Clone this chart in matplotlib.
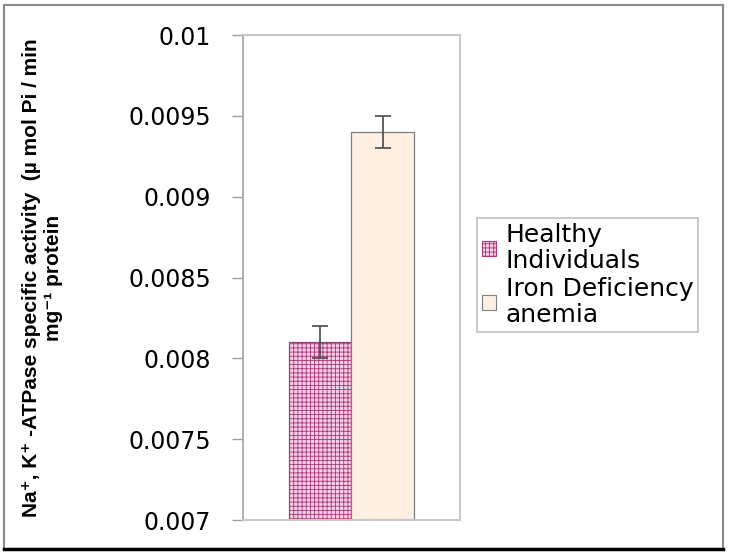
import matplotlib
matplotlib.use("Agg")
import matplotlib.pyplot as plt
from matplotlib.patches import Rectangle, Patch
from matplotlib.lines import Line2D

# data
groups = ["Healthy\nIndividuals", "Iron Deficiency\nanemia"]
activity = [0.0081, 0.0094]
activity_err = [0.0001, 0.0001]
y_ticks = [0.007, 0.0075, 0.008, 0.0085, 0.009, 0.0095, 0.01]
y_tick_labels = ["0.007", "0.0075", "0.008", "0.0085", "0.009", "0.0095", "0.01"]

FACE = ["#f6cce6", "#fdf0e3"]
EDGE = ["#a63a78", "#7f7f7f"]
HATCH = ["++++", None]

plt.rcParams["hatch.linewidth"] = 0.6

fig = plt.figure(figsize=(7.29, 5.56), dpi=100)
ax = fig.add_axes([0.3333, 0.0647, 0.2977, 0.8723])

x = list(range(len(activity)))
for i in x:
    ax.bar(i, activity[i], width=1.0, bottom=0,
           color=FACE[i], edgecolor=EDGE[i], hatch=HATCH[i],
           linewidth=0.9, zorder=2)
ax.errorbar(x, activity, yerr=activity_err, fmt="none", ecolor="#555555",
            elinewidth=1.3, capsize=6, capthick=1.3, zorder=3)

ax.set_ylim(0.007, 0.01)
ax.set_xlim(-1.236, 2.236)
ax.set_yticks(y_ticks)
ax.set_yticklabels(y_tick_labels, fontsize=17, family="DejaVu Sans")
ax.set_xticks([])
ax.tick_params(axis="y", direction="out", length=8, width=1, color="#a0a0a0", pad=15)
for side in ["top", "right", "bottom"]:
    ax.spines[side].set_color("#c8c8c8")
    ax.spines[side].set_linewidth(1.5)
ax.spines["left"].set_color("#a8a8a8")
ax.spines["left"].set_linewidth(1.3)

ax.set_ylabel("Na\u207a, K\u207a -ATPase specific activity  (\u00b5 mol Pi / min\nmg\u207b\u00b9 protein",
              fontsize=15, fontweight="bold", family=["Liberation Sans", "DejaVu Sans"],
              multialignment="center", linespacing=1.2)
ax.yaxis.set_label_coords(-0.83, 0.5)

handles = [Patch(facecolor=FACE[i], edgecolor=EDGE[i], hatch=HATCH[i], linewidth=0.8)
           for i in x]
leg = fig.legend(handles, groups, loc="upper left", bbox_to_anchor=(0.654, 0.608),
                 prop={"family": "DejaVu Sans", "size": 18}, frameon=True, fancybox=False,
                 handlelength=0.55, handleheight=0.55, handletextpad=0.4,
                 borderpad=0.2, labelspacing=0.15, borderaxespad=0)
for t in leg.get_texts():
    t.set_linespacing(1.1)
leg.get_frame().set_edgecolor("#b0b0b0")
leg.get_frame().set_linewidth(1.2)

# outer frame of the figure
fig.patches.append(Rectangle((4 / 729, 7 / 556), 719 / 729, 544 / 556,
                             transform=fig.transFigure, fill=False,
                             edgecolor="#8a8a8a", linewidth=1.5))
fig.lines.append(Line2D([4 / 729, 723 / 729], [7 / 556, 7 / 556],
                        transform=fig.transFigure, color="black", linewidth=2.5))

fig.savefig("out.png", dpi=100)
